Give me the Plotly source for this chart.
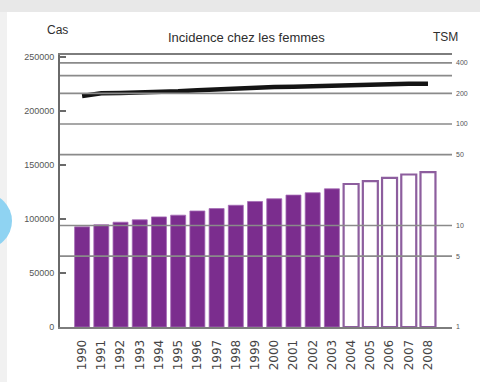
import plotly.graph_objects as go

# Années et effectifs de cas (2004-2008 : projections)
years = [str(y) for y in range(1990, 2009)]
cases = [92800, 94700, 97100, 99300, 102000, 103600, 107500, 109700, 112800, 116300,
         118800, 122200, 124400, 128000, 132500, 135100, 138100, 141300, 143400]
projected = [False] * 14 + [True] * 5

# Taux standardisé monde (échelle log, axe de droite)
tsm = [189, 201, 202, 203, 207, 210, 215, 220, 226, 229,
       231, 233, 236, 240, 246, 247, 249, 250, 250]

left_ticks = [0, 50000, 100000, 150000, 200000, 250000]
right_ticks = [1, 5, 10, 50, 100, 200, 400]
right_grid = [5, 10, 50, 100, 200, 300, 400]

PURPLE = "#7b2d8e"
OUTLINE = "#8d5e9e"

fig = go.Figure()

fig.add_trace(go.Bar(
    x=years, y=cases,
    marker=dict(
        color=["white" if p else PURPLE for p in projected],
        line=dict(color=[OUTLINE if p else "#a56bb5" for p in projected],
                  width=[2.2 if p else 0.8 for p in projected]),
    ),
    yaxis="y", showlegend=False, hoverinfo="x+y",
))

fig.add_trace(go.Scatter(
    x=years, y=tsm, yaxis="y2", mode="lines",
    line=dict(color="#141414", width=4.5),
    showlegend=False,
))

shapes = []
# horizontal reference lines of the TSM scale, drawn above the bars
for v in right_grid:
    shapes.append(dict(type="line", xref="paper", yref="y2", x0=0, x1=1,
                       y0=v, y1=v,
                       line=dict(color="#8a8a8a", width=1.7), layer="above"))
# light frame strips and the blue tab on the left edge
shapes.append(dict(type="rect", xref="paper", yref="paper",
                   x0=-60 / 392, x1=420 / 392, y0=(327 - 12) / 272, y1=(327 + 5) / 272,
                   fillcolor="#e8e8e8", line=dict(width=0), layer="below"))
shapes.append(dict(type="rect", xref="paper", yref="paper",
                   x0=-60 / 392, x1=-53 / 392, y0=-55 / 272, y1=(327 - 12) / 272,
                   fillcolor="#f1f1f1", line=dict(width=0), layer="below"))
shapes.append(dict(type="circle", xref="paper", yref="paper",
                   x0=(-44 - 60) / 392, x1=(12 - 60) / 392,
                   y0=(327 - 249) / 272, y1=(327 - 193) / 272,
                   fillcolor="#8fd3f2", line=dict(width=0), layer="above"))

annotations = [
    dict(text="Incidence chez les femmes", xref="paper", yref="paper",
         x=(246 - 60) / 392, y=(327 - 37) / 272, showarrow=False,
         font=dict(size=13, color="#2e2e2e", family="Liberation Sans"),
         xanchor="center", yanchor="middle"),
    dict(text="Cas", xref="paper", yref="paper",
         x=(57 - 60) / 392, y=(327 - 30) / 272, showarrow=False,
         font=dict(size=12, color="#2e2e2e", family="Liberation Sans"),
         xanchor="center", yanchor="middle"),
    dict(text="TSM", xref="paper", yref="paper",
         x=(445 - 60) / 392, y=(327 - 37) / 272, showarrow=False,
         font=dict(size=12, color="#2e2e2e", family="Liberation Sans"),
         xanchor="center", yanchor="middle"),
]

fig.update_layout(
    width=480, height=382,
    margin=dict(l=60, r=28, t=55, b=55),
    paper_bgcolor="white", plot_bgcolor="white",
    bargap=0.22,
    shapes=shapes, annotations=annotations,
    xaxis=dict(
        type="category", range=[-1.15, 19.25],
        showline=True, mirror=True, linecolor="#7d7d7d", linewidth=2,
        showgrid=False, ticks="", tickangle=-90, ticklabelstandoff=6,
        tickfont=dict(size=12, color="#444444", family="DejaVu Sans"),
    ),
    yaxis=dict(
        range=[0, 252000], tickvals=left_ticks,
        ticktext=[str(v) for v in left_ticks],
        showline=True, linecolor="#6a6a6a", linewidth=2,
        ticks="inside", ticklen=6, tickcolor="#6a6a6a", tickwidth=1.5,
        showgrid=False, zeroline=False, ticklabelstandoff=2,
        tickfont=dict(size=9, color="#555555", family="Liberation Sans"),
    ),
    yaxis2=dict(
        type="log", range=[0, 2.68], overlaying="y", side="right",
        tickvals=right_ticks, ticktext=[str(v) for v in right_ticks],
        showline=False, showgrid=False, zeroline=False, ticks="",
        ticklabelstandoff=3,
        tickfont=dict(size=7, color="#555555", family="Liberation Sans"),
    ),
)

fig.write_html("out.html")
